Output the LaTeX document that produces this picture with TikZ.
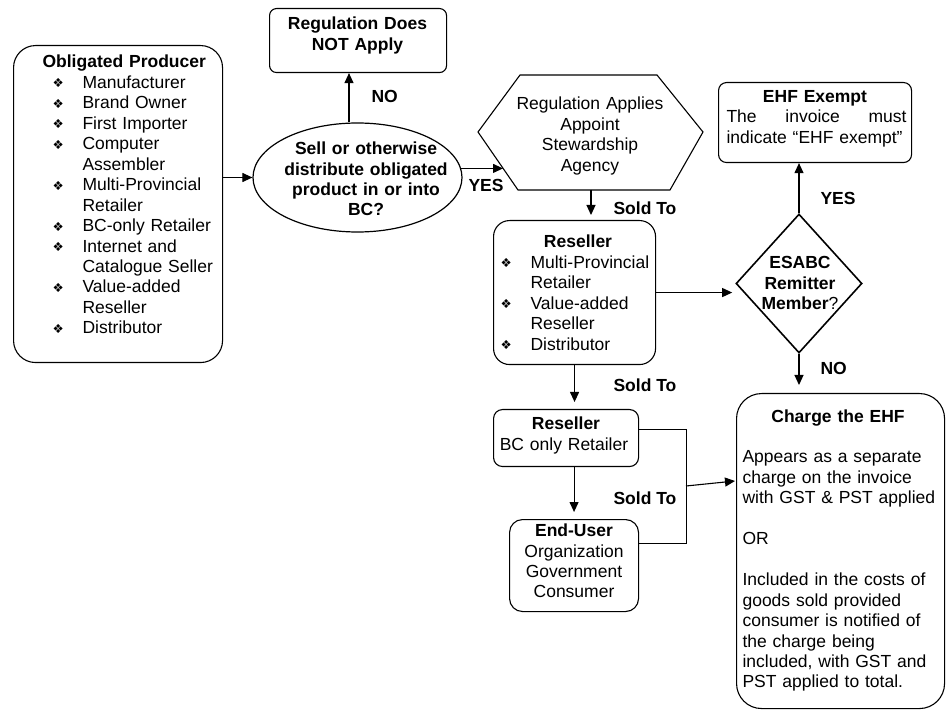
\documentclass[tikz,border=0pt]{standalone}
\usepackage{fontspec}
\setmainfont{Liberation Sans}
\newfontfamily\dejavu{DejaVu Sans}
\usetikzlibrary{arrows.meta,shapes.geometric,calc}
\newcommand\bul{\makebox[30pt][l]{\raisebox{0.5pt}{\dejavu\fontsize{12.5}{12}\selectfont ❖}}}
\newcommand\ind{\hspace*{30pt}}
\begin{document}
\begin{tikzpicture}[x=1pt,y=-1pt,
  font=\fontsize{17.5}{20.45}\selectfont,
  line width=1.1pt,
  box/.style={draw, line width=1.1pt, inner sep=0pt, anchor=north west},
  tl/.style={inner sep=0pt, anchor=base west, align=left, text width=#1},
  tc/.style={inner sep=0pt, anchor=base, align=center, text width=#1},
  arr/.style={-{Triangle[length=10pt,width=9pt]}},
  lbl/.style={inner sep=0pt, anchor=base west, font=\fontsize{17.5}{20.45}\selectfont\bfseries}
]
\fill[white] (0,0) rectangle (946,711);
\useasboundingbox (0,0) rectangle (946,711);

% Obligated producer
\node[box, rounded corners=22pt, minimum width=209pt, minimum height=317pt] (prod) at (13,45) {};
\node[tl=195pt] (prodtxt) at (42,68) {\textbf{Obligated Producer}\\
\hspace*{10pt}\bul Manufacturer\\
\hspace*{10pt}\bul Brand Owner\\
\hspace*{10pt}\bul First Importer\\
\hspace*{10pt}\bul Computer\\
\hspace*{10pt}\ind Assembler\\
\hspace*{10pt}\bul Multi-Provincial\\
\hspace*{10pt}\ind Retailer\\
\hspace*{10pt}\bul BC-only Retailer\\
\hspace*{10pt}\bul Internet and\\
\hspace*{10pt}\ind Catalogue Seller\\
\hspace*{10pt}\bul Value-added\\
\hspace*{10pt}\ind Reseller\\
\hspace*{10pt}\bul Distributor};

% Regulation does not apply
\node[box, rounded corners=7pt, minimum width=177pt, minimum height=64pt] (rna) at (269,8) {};
\node[tc=177pt, font=\fontsize{17.5}{21}\selectfont\bfseries] (rnatxt) at (357.5,30) {Regulation Does\\NOT Apply};

% Ellipse decision
\node[ellipse, draw, line width=1.2pt, inner sep=0pt, minimum width=209pt, minimum height=109pt] (ell) at (357.5,177.5) {};
\node[tc=220pt, font=\fontsize{17.5}{20.2}\selectfont\bfseries] (elltxt) at (366,155) {Sell or otherwise\\distribute obligated\\product in or into\\BC?};

% Hexagon
\coordinate (h1) at (520,75);
\coordinate (h2) at (657,75);
\coordinate (h3) at (703,132);
\coordinate (h4) at (670,190);
\coordinate (h5) at (518,190);
\coordinate (h6) at (478,132);
\draw[line width=1.1pt] (h1) -- (h2) -- (h3) -- (h4) -- (h5) -- (h6) -- cycle;
\node[tc=200pt] (hextxt) at (590,110) {Regulation Applies\\Appoint\\Stewardship\\Agency};
\coordinate (hyes) at (503,168);
\coordinate (hbot) at (591,190);

% Reseller 1
\node[box, rounded corners=16pt, minimum width=162pt, minimum height=144pt] (r1) at (493,220) {};
\node[tc=150pt, font=\fontsize{17.5}{20.45}\selectfont\bfseries] (r1t) at (578,248) {Reseller};
\node[tl=155pt] (r1txt) at (500,268.5) {\bul Multi-Provincial\\
\ind Retailer\\
\bul Value-added\\
\ind Reseller\\
\bul Distributor};

% Diamond
\node[diamond, draw, line width=1.6pt, inner sep=0pt, minimum width=126pt, minimum height=139pt] (dia) at (799,283.5) {};
\node[tc=110pt, font=\fontsize{17.5}{20.5}\selectfont\bfseries] (diatxt) at (800,269) {ESABC\\Remitter\\Member\mdseries?};

% EHF exempt
\node[box, rounded corners=8pt, minimum width=193pt, minimum height=80pt] (ehf) at (718,82) {};
\node[tc=190pt, font=\fontsize{17.5}{20.45}\selectfont\bfseries] (ehft) at (815,103) {EHF Exempt};
\node[tl=185pt] (ehftxt) at (726,123) {\makebox[180pt][s]{The\hfill invoice\hfill must}\\indicate “EHF exempt”};

% Charge the EHF
\node[box, rounded corners=25pt, minimum width=208pt, minimum height=315pt] (chg) at (736,393) {};
\node[tc=200pt, font=\fontsize{17.5}{20.45}\selectfont\bfseries] (chgt) at (838,423) {Charge the EHF};
\node[tl=200pt] (chgtxt) at (742,463) {Appears as a separate\\
charge on the invoice\\
with GST \& PST applied\\[20.45pt]
OR\\[20.45pt]
Included in the costs of\\
goods sold provided\\
consumer is notified of\\
the charge being\\
included, with GST and\\
PST applied to total.};

% Reseller 2
\node[box, rounded corners=9pt, minimum width=145pt, minimum height=57pt] (r2) at (493,409) {};
\node[tc=140pt, font=\fontsize{17.5}{20.45}\selectfont\bfseries] (r2t) at (566,430) {Reseller};
\node[tc=140pt] (r2txt) at (564,451) {BC only Retailer};

% End user
\node[box, rounded corners=13pt, minimum width=129pt, minimum height=92pt] (eu) at (509,519) {};
\node[tc=125pt, font=\fontsize{17.5}{20.45}\selectfont\bfseries] (eut) at (574,536) {End-User};
\node[tc=125pt] (eutxt) at (574,557) {Organization\\Government\\Consumer};

% bracket coordinates
\coordinate (bt) at (686,429);
\coordinate (bb) at (686,543);
\coordinate (bm) at (686,486);
\coordinate (chgin) at (735,481);

% Connectors
\draw[arr] (prod.east |- ell.west) -- (ell.west);
\draw[arr] ($(ell.north)+(-8.5,0)$) -- ($(ell.north |- rna.south)+(-8.5,0)$);
\draw[arr] (ell.5) -- (ell.5 -| hyes);
\draw[arr, shorten >=5pt] (hbot) -- (hbot |- r1.north);
\draw[arr, shorten >=3pt] (r1.east) -- (r1.east -| dia.west);
\draw[arr] (dia.north) -- (dia.north |- ehf.south);
\draw[arr, shorten >=8pt] (dia.south) -- (dia.south |- chg.north);
\draw[arr, shorten >=7pt] (r1.south) -- (r1.south |- r2.north);
\draw[arr, shorten >=7pt] (eu.north |- r2.south) -- (eu.north);
\draw[line width=0.8pt] (r2.east |- bt) -- (bt) -- (bb) -- (eu.east |- bb);
\draw[arr] (bm) -- (chgin);

% Labels
\node[lbl] (lno1) at (371,103) {NO};
\node[lbl] (lyes1) at (468,192) {YES};
\node[lbl] (lsold1) at (613,215) {Sold To};
\node[lbl] (lsold2) at (613,392) {Sold To};
\node[lbl] (lsold3) at (613,504) {Sold To};
\node[lbl] (lyes2) at (820,205) {YES};
\node[lbl] (lno2) at (820,375) {NO};
\end{tikzpicture}
\end{document}
